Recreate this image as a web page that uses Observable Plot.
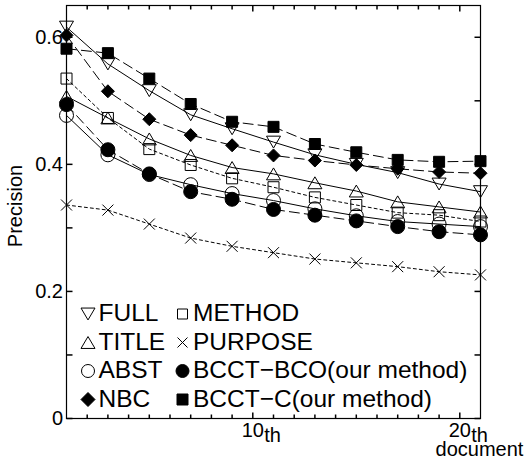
<!DOCTYPE html>
<html>
<head>
<meta charset="utf-8">
<script src="https://cdn.jsdelivr.net/npm/d3@7"></script>
<script src="https://cdn.jsdelivr.net/npm/@observablehq/plot@0.6"></script>
<style>
  body { margin: 0; background: #fff; }
  svg { display: block; }
</style>
</head>
<body>
<div id="chart"></div>
<script>
// ---- data ----
const docs = [1, 3, 5, 7, 9, 11, 13, 15, 17, 19, 21];
const FULL     = [0.616, 0.558, 0.516, 0.478, 0.456, 0.435, 0.415, 0.400, 0.387, 0.369, 0.357];
const TITLE    = [0.507, 0.473, 0.440, 0.414, 0.395, 0.385, 0.371, 0.358, 0.341, 0.333, 0.325];
const ABST     = [0.477, 0.415, 0.384, 0.368, 0.354, 0.343, 0.330, 0.319, 0.310, 0.306, 0.302];
const NBC      = [0.603, 0.515, 0.471, 0.446, 0.430, 0.414, 0.406, 0.399, 0.393, 0.388, 0.386];
const METHOD   = [0.535, 0.473, 0.424, 0.399, 0.378, 0.364, 0.348, 0.336, 0.324, 0.320, 0.310];
const PURPOSE  = [0.336, 0.328, 0.306, 0.284, 0.271, 0.261, 0.251, 0.245, 0.239, 0.231, 0.226];
const BCCT_BCO = [0.494, 0.423, 0.385, 0.357, 0.345, 0.329, 0.320, 0.311, 0.302, 0.294, 0.289];
const BCCT_C   = [0.582, 0.575, 0.535, 0.495, 0.467, 0.459, 0.432, 0.419, 0.407, 0.404, 0.405];

const seriesNames = ["FULL", "TITLE", "ABST", "NBC", "METHOD", "PURPOSE", "BCCT\u2212BCO(our method)", "BCCT\u2212C(our method)"];
const seriesValues = [FULL, TITLE, ABST, NBC, METHOD, PURPOSE, BCCT_BCO, BCCT_C];

const yTickValues = [0, 0.2, 0.4, 0.6];
const yTickLabels = ["0", "0.2", "0.4", "0.6"];
const yMinorTicks = [0.1, 0.3, 0.5];
const xMajorTicks = [10, 20];
const xTickLabels = ["10", "20"];
const xMinorTicks = [2, 3, 4, 5, 6, 7, 8, 9, 11, 12, 13, 14, 15, 16, 17, 18, 19];
const xUnitLabel = "document";
const yAxisLabel = "Precision";

// ---- symbols ----
function sym(fn) { return {draw(ctx, size) { const r = Math.sqrt(size / Math.PI); fn(ctx, r); }}; }
const triDown = sym((c, r) => { const h = r * 0.85; c.moveTo(-r, -h); c.lineTo(r, -h); c.lineTo(0, h); c.closePath(); });
const triUp   = sym((c, r) => { const h = r * 0.85; c.moveTo(-r, h); c.lineTo(r, h); c.lineTo(0, -h); c.closePath(); });
const circ    = sym((c, r) => { c.moveTo(r, 0); c.arc(0, 0, r, 0, 2 * Math.PI); c.closePath(); });
const sq      = sym((c, r) => { c.rect(-r, -r, 2 * r, 2 * r); });
const diam    = sym((c, r) => { c.moveTo(0, -r); c.lineTo(r, 0); c.lineTo(0, r); c.lineTo(-r, 0); c.closePath(); });
const times   = sym((c, r) => { c.moveTo(-r, -r); c.lineTo(r, r); c.moveTo(r, -r); c.lineTo(-r, r); });
function tick(dx, dy) { return {draw(c) { c.moveTo(0, 0); c.lineTo(dx, dy); }}; }

const styles = {
  "FULL":    {symbol: triDown, r: 7,   fill: "none",  dash: null, lr: 7,   row: 0, col: 0},
  "TITLE":   {symbol: triUp,   r: 7,   fill: "none",  dash: null, lr: 7,   row: 1, col: 0},
  "ABST":    {symbol: circ,    r: 7,   fill: "none",  dash: null, lr: 6.5, row: 2, col: 0},
  "NBC":     {symbol: diam,    r: 6.5, fill: "black", dash: "10,5", lr: 7, row: 3, col: 0},
  "METHOD":  {symbol: sq,      r: 5.5, fill: "none",  dash: "3,3", lr: 5,  row: 0, col: 1},
  "PURPOSE": {symbol: times,   r: 5.5, fill: "none",  dash: "3,3", lr: 5,  row: 1, col: 1},
  "BCCT\u2212BCO(our method)": {symbol: circ, r: 7,   fill: "black", dash: "10,5", lr: 6.5, row: 2, col: 1},
  "BCCT\u2212C(our method)":   {symbol: sq,   r: 5.5, fill: "black", dash: "10,5", lr: 5.5, row: 3, col: 1}
};

const rows = [];
seriesNames.forEach((name, i) => docs.forEach((d, j) => rows.push({series: name, doc: d, value: seriesValues[i][j]})));

const font = "'Liberation Sans', Arial, Helvetica, sans-serif";
const marks = [];

// frame and ticks
marks.push(Plot.frame({stroke: "black", strokeWidth: 1.2}));
marks.push(Plot.dot(xMinorTicks, {x: d => d, frameAnchor: "bottom", symbol: tick(0, -4), r: 1, fill: "none", stroke: "black"}));
marks.push(Plot.dot(xMajorTicks, {x: d => d, frameAnchor: "bottom", symbol: tick(0, -6), r: 1, fill: "none", stroke: "black"}));
marks.push(Plot.dot(xMinorTicks, {x: d => d, frameAnchor: "top", symbol: tick(0, 4), r: 1, fill: "none", stroke: "black"}));
marks.push(Plot.dot(xMajorTicks, {x: d => d, frameAnchor: "top", symbol: tick(0, 6), r: 1, fill: "none", stroke: "black"}));
marks.push(Plot.dot(yTickValues.concat(yMinorTicks), {y: d => d, frameAnchor: "left", symbol: tick(6, 0), r: 1, fill: "none", stroke: "black"}));
marks.push(Plot.dot(yTickValues.concat(yMinorTicks), {y: d => d, frameAnchor: "right", symbol: tick(-6, 0), r: 1, fill: "none", stroke: "black"}));

// lines
for (const name of seriesNames) {
  const s = styles[name];
  const opts = {x: "doc", y: "value", stroke: "black", strokeWidth: 1};
  if (s.dash) opts.strokeDasharray = s.dash;
  marks.push(Plot.line(rows.filter(d => d.series === name), opts));
}
// markers
for (const name of seriesNames) {
  const s = styles[name];
  marks.push(Plot.dot(rows.filter(d => d.series === name), {
    x: "doc", y: "value", symbol: s.symbol, r: s.r, fill: s.fill, stroke: "black", strokeWidth: 1
  }));
}

// legend (inside the frame, lower-left)
const legendSymX = [88, 182.5], legendTextX = [98.5, 193];
const legendBase = [321, 349.5, 378, 406.5];
const fl = 66.5, ft = 5.5;
for (const name of seriesNames) {
  const s = styles[name];
  marks.push(Plot.dot([name], {
    frameAnchor: "top-left", dx: legendSymX[s.col] - fl, dy: legendBase[s.row] - 7 - ft,
    symbol: s.symbol, r: s.lr, fill: s.fill, stroke: "black", strokeWidth: 1
  }));
  marks.push(Plot.text([name], {
    frameAnchor: "top-left", dx: legendTextX[s.col] - fl, dy: legendBase[s.row] - ft,
    text: d => d, textAnchor: "start", lineAnchor: "bottom", fontSize: 24.5, fill: "black"
  }));
}

// axis labels
marks.push(Plot.text(yTickValues, {
  y: d => d, frameAnchor: "left", text: (d, i) => yTickLabels[i], textAnchor: "end",
  lineAnchor: "middle", dx: -3.5, fontSize: 20, fill: "black"
}));
marks.push(Plot.text(xMajorTicks, {
  x: d => d, frameAnchor: "bottom", text: (d, i) => xTickLabels[i], textAnchor: "middle",
  lineAnchor: "bottom", dy: 18.5, fontSize: 20, fill: "black"
}));
marks.push(Plot.text(xMajorTicks, {
  x: d => d, frameAnchor: "bottom", text: () => "th", textAnchor: "start",
  lineAnchor: "bottom", dx: 11.5, dy: 23.5, fontSize: 20, fill: "black"
}));
marks.push(Plot.text([xUnitLabel], {
  frameAnchor: "bottom-right", text: d => d, textAnchor: "middle",
  lineAnchor: "bottom", dx: -1, dy: 37.5, fontSize: 20, fill: "black"
}));
marks.push(Plot.text([yAxisLabel], {
  frameAnchor: "left", text: d => d, textAnchor: "middle", lineAnchor: "middle",
  rotate: -90, dx: -50.5, dy: -6, fontSize: 20, fill: "black"
}));

const chart = Plot.plot({
  width: 526,
  height: 459,
  marginLeft: 66,
  marginRight: 46,
  marginTop: 5,
  marginBottom: 41,
  x: {domain: [1, 21], axis: null},
  y: {domain: [0, 0.65], axis: null},
  style: {fontFamily: font, background: "white", color: "black"},
  marks
});
document.getElementById("chart").appendChild(chart);
</script>
</body>
</html>
